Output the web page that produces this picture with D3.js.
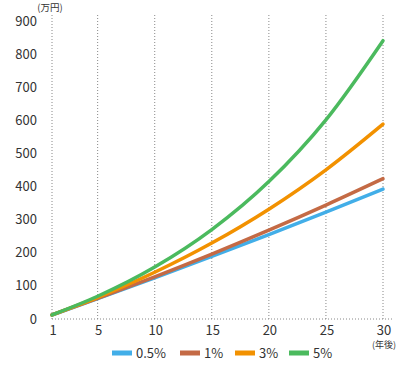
<html>
<head>
<meta charset="utf-8">
<script src="https://d3js.org/d3.v7.min.js"></script>
<style>
  body { margin: 0; background: #fff; }
  text { font-family: "Noto Sans CJK JP", "Noto Sans", sans-serif; fill: #333; }
  .grid { stroke: #888; stroke-width: 1; stroke-dasharray: 1,2; fill: none; }
  .line { fill: none; stroke-width: 3.5; stroke-linecap: round; }
</style>
</head>
<body>
<svg id="chart" width="399" height="375"></svg>
<script>
// years after start (x) and balance in 万円 (y)
const years = [1, 5, 10, 15, 20, 25, 30];
const rate05 = [12.1, 61.3, 124.2, 188.8, 254.9, 322.7, 392.2];
const rate1 = [12.2, 62.1, 127.4, 196.0, 268.3, 344.1, 423.8];
const rate3 = [12.3, 65.3, 141.1, 229.3, 331.6, 450.5, 588.5];
const rate5 = [12.4, 68.7, 156.9, 270.0, 415.1, 601.6, 840.6];
const seriesNames = ["0.5%", "1%", "3%", "5%"];
const seriesColors = ["#42aee8", "#c46a45", "#f29100", "#4bba5e"];
const xTicks = [1, 5, 10, 15, 20, 25, 30];
const yTicks = [0, 100, 200, 300, 400, 500, 600, 700, 800, 900];

const svg = d3.select("#chart");
const x = d3.scaleLinear().domain([1, 30]).range([52, 383]);
const y = d3.scaleLinear().domain([0, 900]).range([319, 21]);

// vertical grid lines
svg.selectAll("line.vgrid").data([1, 5, 10, 15, 20, 25, 30])
  .join("line")
  .attr("class", "grid")
  .attr("x1", d => x(d)).attr("x2", d => x(d))
  .attr("y1", 15).attr("y2", y(0));

// baseline
svg.append("line")
  .attr("class", "grid")
  .attr("x1", x(1)).attr("x2", 394)
  .attr("y1", y(0)).attr("y2", y(0));

// y axis labels
svg.selectAll("text.ytick").data(yTicks)
  .join("text")
  .attr("x", 37)
  .attr("y", d => y(d))
  .attr("dy", "0.35em")
  .attr("text-anchor", "end")
  .attr("font-size", 13)
  .text(d => d);

svg.append("text")
  .attr("x", 50).attr("y", 8)
  .attr("dy", "0.35em")
  .attr("text-anchor", "middle")
  .attr("font-size", 9.5)
  .text("(万円)");

// x axis labels
svg.selectAll("text.xtick").data(xTicks)
  .join("text")
  .attr("x", d => x(d) + 1)
  .attr("y", 330)
  .attr("dy", "0.35em")
  .attr("text-anchor", "middle")
  .attr("font-size", 13)
  .text(d => d);

svg.append("text")
  .attr("x", x(30) + 1).attr("y", 345)
  .attr("dy", "0.35em")
  .attr("text-anchor", "middle")
  .attr("font-size", 9)
  .text("(年後)");

// lines
const allSeries = [rate05, rate1, rate3, rate5];
const line = d3.line()
  .x((d, i) => x(years[i]))
  .y(d => y(d))
  .curve(d3.curveMonotoneX);

svg.selectAll("path.line").data(allSeries)
  .join("path")
  .attr("class", "line")
  .attr("stroke", (d, i) => seriesColors[i])
  .attr("d", line);

// legend
const legendX = [112, 180, 235, 289];
const legend = svg.selectAll("g.legend").data(seriesNames)
  .join("g")
  .attr("transform", (d, i) => "translate(" + legendX[i] + ",353)");
legend.append("rect")
  .attr("x", 0).attr("y", -2.5)
  .attr("width", 20).attr("height", 5)
  .attr("fill", (d, i) => seriesColors[i]);
legend.append("text")
  .attr("x", 24).attr("y", 0)
  .attr("dy", "0.35em")
  .attr("font-size", 13)
  .text(d => d);
</script>
</body>
</html>
